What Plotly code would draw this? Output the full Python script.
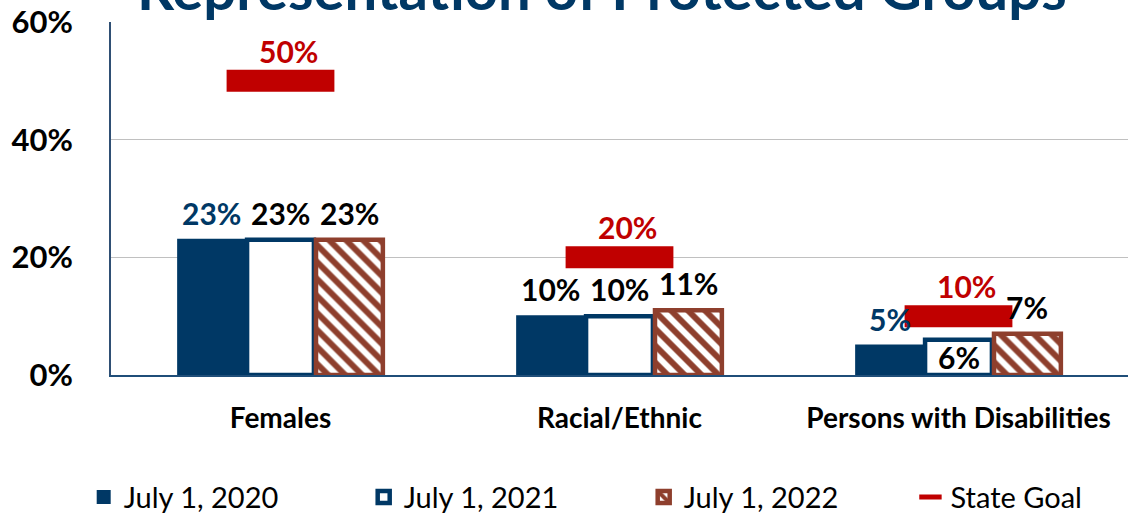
import plotly.graph_objects as go

# ---- data ----
categories = ["Females", "Racial/Ethnic", "Persons with Disabilities"]
series_names = ["July 1, 2020", "July 1, 2021", "July 1, 2022"]
values_2020 = [23, 10, 5]
values_2021 = [23, 10, 6]
values_2022 = [23, 11, 7]
state_goal = [50, 20, 10]
y_ticks = [0, 20, 40, 60]

# ---- style ----
NAVY = "#003865"
BROWN = "#8E3F2D"
RED = "#C00000"
FONT = "Lato"
W, H = 1131, 519
ML, MR, MT, MB = 111, 3, 22, 144
BARGAP = 0.39
BARGROUPGAP = 0.03

series = [values_2020, values_2021, values_2022]
# label colours per category for each series
label_colors = [
    [NAVY, "black", NAVY],
    ["black", "black", "black"],
    ["black", "black", "black"],
]
# labels drawn inside the bar instead of above it
inside_labels = {(1, 2)}

fig = go.Figure()

fig.add_bar(
    name=series_names[0], x=categories, y=values_2020,
    marker=dict(color=NAVY, line=dict(color=NAVY, width=2)),
)
fig.add_bar(
    name=series_names[1], x=categories, y=values_2021,
    marker=dict(color="white", line=dict(color=NAVY, width=4.5)),
)
fig.add_bar(
    name=series_names[2], x=categories, y=values_2022,
    marker=dict(
        color="white",
        line=dict(color=BROWN, width=4.5),
        pattern=dict(shape="\\", fgcolor=BROWN, bgcolor="white",
                     size=12, solidity=0.5, fillmode="replace"),
    ),
)
fig.add_scatter(
    name="State Goal", x=categories, y=state_goal, mode="markers",
    marker=dict(symbol="line-ew", size=77,
                line=dict(color=RED, width=22), color=RED),
    legend="legend2",
)

# pixel width of one bar, from the layout geometry
plot_w = W - ML - MR
slot = plot_w / len(categories)
bar_w = slot * (1 - BARGAP) / len(series)

annotations = []
for i, vals in enumerate(series):
    for j, v in enumerate(vals):
        inside = (i, j) in inside_labels
        annotations.append(dict(
            x=categories[j], y=v / 2 if inside else v,
            xref="x", yref="y",
            text=f"{v}%", showarrow=False,
            xshift=(i - 1) * bar_w,
            yshift=0 if inside else 27,
            yanchor="middle",
            font=dict(family=FONT, size=30, color=label_colors[i][j],
                      weight="bold"),
        ))

for j, g in enumerate(state_goal):
    annotations.append(dict(
        x=categories[j], y=g, xref="x", yref="y",
        text=f"{g}%", showarrow=False,
        xshift=8, yshift=30, yanchor="middle",
        font=dict(family=FONT, size=30, color=RED, weight="bold"),
    ))

annotations.append(dict(
    x=(602 - ML) / plot_w, y=1, xref="paper", yref="paper",
    text="Representation of Protected Groups", showarrow=False,
    yanchor="bottom", yshift=-2,
    font=dict(family=FONT, size=58, color=NAVY, weight="bold"),
))

legend_font = dict(family=FONT, size=29, color="black")

fig.update_layout(
    width=W, height=H,
    margin=dict(l=ML, r=MR, t=MT, b=MB, pad=0),
    paper_bgcolor="white", plot_bgcolor="white",
    barmode="group", bargap=BARGAP, bargroupgap=BARGROUPGAP,
    font=dict(family=FONT, color="black"),
    showlegend=True,
    legend=dict(
        orientation="h", xref="container", yref="container",
        x=0.074, y=0.042, xanchor="left", yanchor="middle",
        entrywidth=235, entrywidthmode="pixels",
        font=legend_font, itemwidth=30, traceorder="normal",
    ),
    legend2=dict(
        orientation="h", xref="container", yref="container",
        x=0.805, y=0.042, xanchor="left", yanchor="middle",
        font=legend_font, itemwidth=30,
    ),
    annotations=annotations,
)

fig.update_yaxes(
    range=[0, 60], tickvals=y_ticks,
    ticktext=[f"{t}%" for t in y_ticks],
    tickfont=dict(family=FONT, size=31, color="black", weight="bold"),
    showgrid=True, gridcolor="#C0C0C0", gridwidth=1,
    showline=True, linecolor="#2F4F74", linewidth=2,
    zeroline=False, ticks="", ticklabelstandoff=30,
)
fig.update_xaxes(
    tickfont=dict(family=FONT, size=28, color="black", weight="bold"),
    showline=True, linecolor="#1F4E79", linewidth=2,
    ticks="", ticklabelstandoff=17,
)

fig.write_html("out.html")
